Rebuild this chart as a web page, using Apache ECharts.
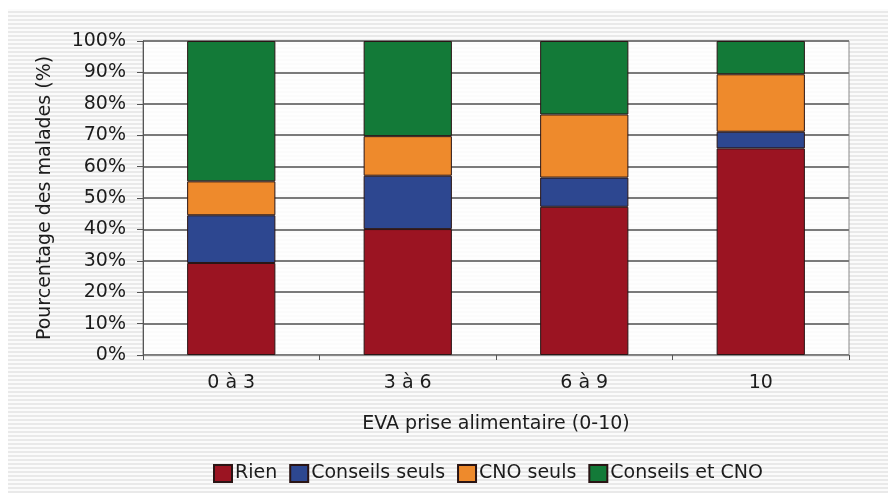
<!DOCTYPE html>
<html>
<head>
<meta charset="utf-8">
<script src="https://cdn.jsdelivr.net/npm/echarts@6/dist/echarts.min.js"></script>
<style>
  html, body { margin: 0; padding: 0; background: #ffffff; }
  #frame {
    position: absolute; left: 8px; top: 9px; width: 880px; height: 484px;
    background: repeating-linear-gradient(to bottom, #fbfbfb 0px, #fbfbfb 2px, #e9e9e9 2px, #e9e9e9 4px);
  }
  #chart { position: absolute; left: 0; top: 0; width: 888px; height: 493px; }
</style>
</head>
<body>
<div id="frame"></div>
<div id="chart"></div>
<script>
// Répartition de la prise en charge nutritionnelle selon l'EVA (en %)
const categories = ['0 à 3', '3 à 6', '6 à 9', '10'];
const rien = [29.3, 40.1, 47.2, 65.8];
const conseilsSeuls = [15.2, 17.0, 9.3, 5.3];
const cnoSeuls = [10.8, 12.6, 20.1, 18.3];
const conseilsEtCno = [44.7, 30.3, 23.4, 10.6];

const seriesNames = ['Rien', 'Conseils seuls', 'CNO seuls', 'Conseils et CNO'];
const seriesData = [rien, conseilsSeuls, cnoSeuls, conseilsEtCno];
const seriesColors = ['#9b1422', '#2d4790', '#ee8a2c', '#137a38'];

const font = 'DejaVu Sans';
const textColor = '#1c1c1c';
const fs = 19;
const chart = echarts.init(document.getElementById('chart'), null, { renderer: 'canvas' });

chart.setOption({
  animation: false,
  backgroundColor: 'transparent',
  textStyle: { fontFamily: font },
  grid: {
    left: 143, right: 39, top: 41, bottom: 138,
    show: true, backgroundColor: 'rgba(255,255,255,0.8)',
    borderColor: '#8a8a8a', borderWidth: 1
  },
  legend: {
    left: 208, top: 459,
    itemWidth: 18, itemHeight: 17, itemGap: 12,
    icon: 'rect',
    textStyle: { fontFamily: font, fontSize: fs, color: textColor, padding: [0, 0, 0, -2] },
    data: seriesNames
  },
  xAxis: {
    type: 'category',
    data: categories,
    name: 'EVA prise alimentaire (0-10)',
    nameLocation: 'middle',
    nameGap: 60,
    nameTextStyle: { fontFamily: font, fontSize: fs, color: textColor },
    axisLine: { lineStyle: { color: '#8a8a8a', width: 1 } },
    axisTick: { show: true, length: 5, lineStyle: { color: '#555' } },
    axisLabel: { margin: 19, fontFamily: font, fontSize: fs, color: textColor }
  },
  yAxis: {
    type: 'value',
    min: 0, max: 100, interval: 10,
    name: 'Pourcentage des malades (%)',
    nameLocation: 'middle',
    nameGap: 88,
    nameTextStyle: { fontFamily: font, fontSize: fs, color: textColor },
    axisLine: { show: true, lineStyle: { color: '#555', width: 1 } },
    axisTick: { show: true, length: 6, lineStyle: { color: '#555' } },
    axisLabel: { formatter: '{value}%', margin: 17, fontFamily: font, fontSize: fs, color: textColor },
    splitLine: { lineStyle: { color: '#7a7a7a', width: 2 } }
  },
  series: seriesNames.map((name, i) => ({
    name,
    type: 'bar',
    stack: 'total',
    barWidth: '50%',
    data: seriesData[i],
    itemStyle: { color: seriesColors[i], borderColor: '#2a1515', borderWidth: 1 }
  }))
});
</script>
</body>
</html>
